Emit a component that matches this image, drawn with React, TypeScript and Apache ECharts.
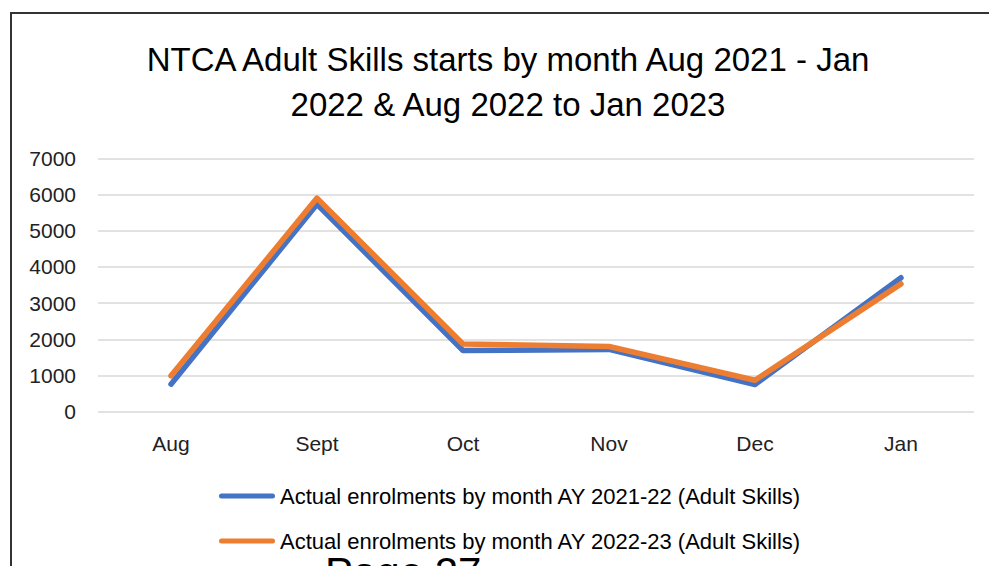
import React, { useEffect, useRef } from "react";
import * as echarts from "echarts";

const months = ["Aug", "Sept", "Oct", "Nov", "Dec", "Jan"];
const series2122 = [760, 5730, 1690, 1720, 750, 3700];
const series2223 = [990, 5900, 1870, 1800, 870, 3530];
const seriesNames = [
  "Actual enrolments by month AY 2021-22 (Adult Skills)",
  "Actual enrolments by month AY 2022-23 (Adult Skills)",
];
const titleText = "NTCA Adult Skills starts by month Aug 2021 - Jan\n2022 & Aug 2022 to Jan 2023";
const pageText = "Page 27";

const FONT = "'Liberation Sans', Arial, sans-serif";
const capsule = "path://M2.5,0 L53.5,0 A2.5,2.5 0 0 1 53.5,5 L2.5,5 A2.5,2.5 0 0 1 2.5,0 Z";

export default function App() {
  const ref = useRef<HTMLDivElement>(null);
  useEffect(() => {
    document.body.style.margin = "0";
    const chart = echarts.init(ref.current!, null, { renderer: "svg" });
    chart.setOption({
      animation: false,
      backgroundColor: "#ffffff",
      title: {
        text: titleText,
        left: 508,
        top: 37,
        textAlign: "center",
        padding: 0,
        textStyle: {
          fontFamily: FONT,
          fontSize: 33,
          fontWeight: "normal",
          color: "#000",
          lineHeight: 45,
        },
      },
      grid: { left: 98, right: 15, top: 158.3, bottom: 154.3, containLabel: false },
      legend: {
        orient: "vertical",
        left: 219,
        top: 485,
        itemWidth: 56,
        itemHeight: 5,
        itemGap: 23,
        padding: 0,
        icon: capsule,
        data: seriesNames,
        textStyle: { fontFamily: FONT, fontSize: 22, color: "#000", padding: [0, 0, 0, 0] },
      },
      xAxis: {
        type: "category",
        data: months,
        boundaryGap: true,
        axisLine: { show: false },
        axisTick: { show: false },
        axisLabel: { margin: 21, fontFamily: FONT, fontSize: 21, color: "#222" },
      },
      yAxis: {
        type: "value",
        min: 0,
        max: 7000,
        interval: 1000,
        axisLine: { show: false },
        axisTick: { show: false },
        axisLabel: {
          margin: 22,
          fontFamily: FONT,
          fontSize: 21,
          color: "#222",
          formatter: (v: number) => String(v),
        },
        splitLine: { lineStyle: { color: "#d9d9d9", width: 1.5 } },
      },
      series: [
        {
          name: seriesNames[0],
          type: "line",
          data: series2122,
          showSymbol: false,
          symbol: "none",
          color: "#4472C4",
          lineStyle: { color: "#4472C4", width: 5.5, cap: "round", join: "round" },
        },
        {
          name: seriesNames[1],
          type: "line",
          data: series2223,
          showSymbol: false,
          symbol: "none",
          color: "#ED7D31",
          lineStyle: { color: "#ED7D31", width: 5.5, cap: "round", join: "round" },
        },
      ],
      graphic: [
        {
          type: "rect",
          shape: { x: 11, y: 13, width: 1200, height: 1000 },
          style: { fill: "none", stroke: "#333", lineWidth: 2 },
          silent: true,
          z: -1,
        },
        {
          type: "text",
          x: 325,
          y: 572,
          style: {
            text: pageText,
            fontFamily: FONT,
            fontSize: 42,
            fill: "#000",
            verticalAlign: "middle",
            align: "left",
          },
        },
      ],
    });
    return () => chart.dispose();
  }, []);
  return (
    <div
      ref={ref}
      style={{ position: "fixed", left: 0, top: 0, width: 989, height: 566 }}
    />
  );
}
